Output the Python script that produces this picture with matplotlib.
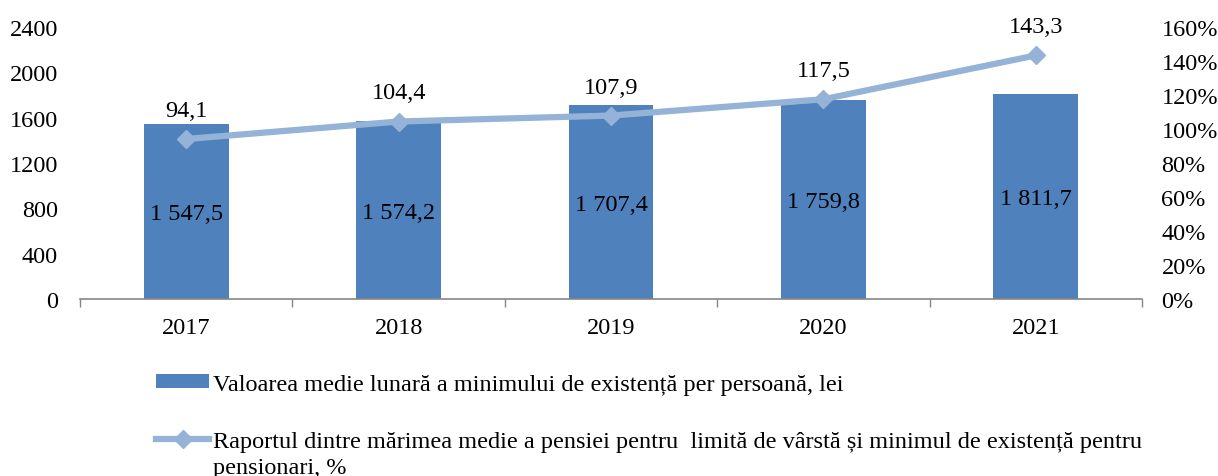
import matplotlib
matplotlib.use("Agg")
import matplotlib.pyplot as plt
from matplotlib.lines import Line2D
from matplotlib.patches import Patch

years = ["2017", "2018", "2019", "2020", "2021"]
subsistence = [1547.5, 1574.2, 1707.4, 1759.8, 1811.7]
ratio = [94.1, 104.4, 107.9, 117.5, 143.3]
bar_labels = ["1 547,5", "1 574,2", "1 707,4", "1 759,8", "1 811,7"]
ratio_labels = ["94,1", "104,4", "107,9", "117,5", "143,3"]
legend_bar = "Valoarea medie lunară a minimului de existență per persoană, lei"
legend_line = "Raportul dintre mărimea medie a pensiei pentru  limită de vârstă și minimul de existență pentru"
legend_line_cont = "pensionari, %"

plt.rcParams['font.family'] = ['Liberation Serif', 'DejaVu Serif']
FS = 17.5
BAR_C = "#4F81BD"
LINE_C = "#95B3D7"

fig = plt.figure(figsize=(12.18, 4.77), dpi=100)
ax = fig.add_axes([80/1218, 1-300/477, 1062/1218, 272/477])
x = list(range(len(years)))
ax.bar(x, subsistence, width=0.4, color=BAR_C, zorder=2)
ax.set_xlim(-0.5, 4.5)
ax.set_ylim(0, 2400)
ax.set_yticks(range(0, 2401, 400))
ax.set_xticks(x)
ax.set_xticklabels(years)
ax.set_xticks([i - 0.5 for i in range(len(years) + 1)], minor=True)
ax.tick_params(axis='x', which='major', length=0, pad=13, labelsize=FS)
ax.tick_params(axis='x', which='minor', length=6, color="#868686", width=1)
ax.tick_params(axis='y', length=0, labelsize=FS, pad=16)
for s in ['top', 'left', 'right']:
    ax.spines[s].set_visible(False)
ax.spines['bottom'].set_color("#868686")
ax.spines['bottom'].set_linewidth(1.2)
for i, v in enumerate(subsistence):
    ax.text(i, v / 2, bar_labels[i], ha='center', va='center_baseline', fontsize=FS)

ax2 = ax.twinx()
ax2.set_ylim(0, 160)
ax2.set_yticks(range(0, 161, 20))
ax2.set_yticklabels([f"{t}%" for t in range(0, 161, 20)])
ax2.tick_params(axis='y', length=0, labelsize=FS, pad=14)
for s in ['top', 'left', 'right', 'bottom']:
    ax2.spines[s].set_visible(False)
ax2.plot(x, ratio, color=LINE_C, lw=4.5, marker='D', markersize=9, zorder=3)
for i, v in enumerate(ratio):
    ax2.annotate(ratio_labels[i], (i, v), xytext=(0, 13), textcoords='offset points',
                 ha='center', va='bottom', fontsize=FS)

handles = [Patch(facecolor=BAR_C, edgecolor='none'),
           Line2D([0], [0], color=LINE_C, lw=4.5, marker='D', markersize=9)]
leg = fig.legend(handles, [legend_bar, legend_line], loc='upper left',
                 bbox_to_anchor=(151/1218, 1-370/477), frameon=False, fontsize=FS,
                 handlelength=2.2, handletextpad=0.15, labelspacing=1.48,
                 handleheight=0.5, borderaxespad=0, borderpad=0.2)

fig.canvas.draw()
bb = leg.get_texts()[1].get_window_extent()
fig.text(bb.x0 / fig.bbox.width, (bb.y0 - 26) / fig.bbox.height, legend_line_cont,
         fontsize=FS, ha='left', va='bottom')

fig.savefig("out.png", dpi=100)
